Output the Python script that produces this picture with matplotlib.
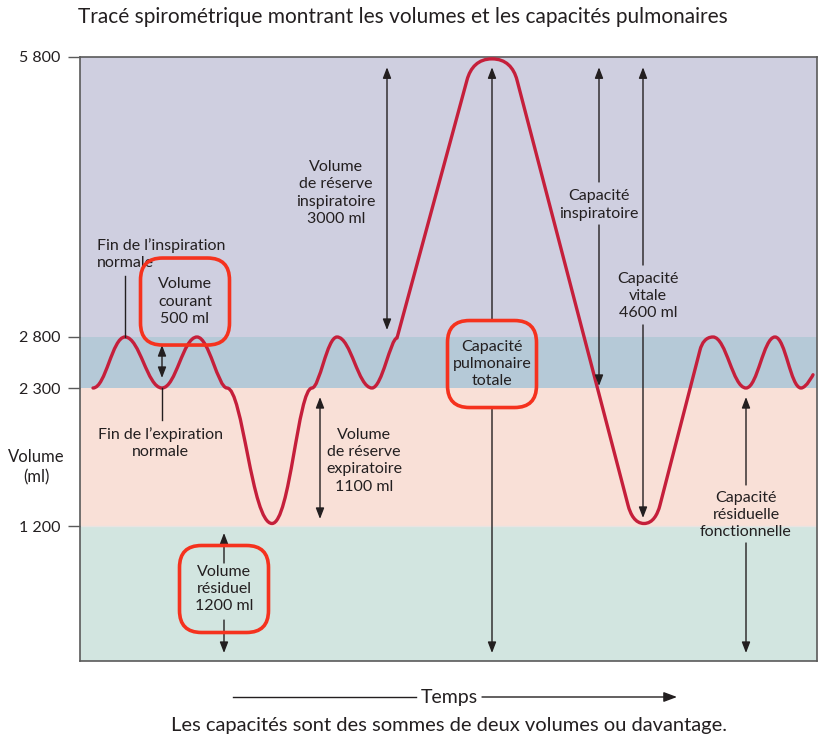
import numpy as np
import matplotlib
matplotlib.use("Agg")
import matplotlib.pyplot as plt
from matplotlib.path import Path
from matplotlib.patches import PathPatch, FancyBboxPatch
from matplotlib.lines import Line2D
from matplotlib.transforms import ScaledTranslation

plt.rcParams["font.family"] = ["Lato", "DejaVu Sans"]

# volume bands (ml)
BAND_EDGES = [0, 1200, 2300, 2800, 5800]
BAND_COLORS = ["#d2e5e0", "#f9e0d7", "#b5c9d7", "#cfcfe0"]

YTICKS = [1200, 2300, 2800, 5800]
YTICK_LABELS = ["1 200", "2 300", "2 800", "5 800"]

# spirogram: points (time in arbitrary units, volume in ml)
TRACE_T = [13, 45, 82, 117, 147, 192, 232, 257, 292, 317, 387, 412, 437, 548, 564,
           580, 620, 633, 666, 695, 721, 733]
TRACE_V = [2300, 2800, 2300, 2800, 2300, 1220, 2300, 2800, 2300, 2790, 5553, 5780, 5553,
           1367, 1220, 1367, 2672, 2800, 2300, 2800, 2300, 2430]

INK = "#231f20"
TRACE_RED = "#c51f3b"
BOX_RED = "#f5321e"

# the schematic axis is not linear: each band has its own height (px)
_SCALE_ML = np.array([0, 1200, 2300, 2800, 5800], dtype=float)
_SCALE_PX = np.array([0, 135, 273, 324, 604], dtype=float)


def _piecewise(v, xp, fp):
    v = np.asarray(v, dtype=float)
    out = np.interp(v, xp, fp)
    lo, hi = v < xp[0], v > xp[-1]
    out = np.where(lo, fp[0] + (v - xp[0]) * (fp[1] - fp[0]) / (xp[1] - xp[0]), out)
    out = np.where(hi, fp[-1] + (v - xp[-1]) * (fp[-1] - fp[-2]) / (xp[-1] - xp[-2]), out)
    return out


def fwd(v):
    return _piecewise(v, _SCALE_ML, _SCALE_PX)


def inv(p):
    return _piecewise(p, _SCALE_PX, _SCALE_ML)


def trace_path(ts, vs, tangents, handles):
    # cubic bezier through the points; tangent per point: h = flat,
    # p = along incoming chord, n = along outgoing chord
    pts = np.column_stack([np.asarray(ts, float), fwd(vs)])

    def direction(i, mode):
        if mode == "h":
            return np.array([1.0, 0.0])
        d = pts[i] - pts[i - 1] if mode == "p" else pts[i + 1] - pts[i]
        return d / np.hypot(*d)

    verts = [pts[0]]
    codes = [Path.MOVETO]
    for i, (k0, k1) in enumerate(handles):
        a, b = pts[i], pts[i + 1]
        m0, m1 = tangents[i][1], tangents[i + 1][0]
        l0 = b[0] - a[0] if m0 == "h" else np.hypot(*(b - a))
        l1 = b[0] - a[0] if m1 == "h" else np.hypot(*(b - a))
        verts += [a + k0 * l0 * direction(i, m0), b - k1 * l1 * direction(i + 1, m1), b]
        codes += [Path.CURVE4] * 3
    verts = np.array(verts)
    verts[:, 1] = inv(verts[:, 1])
    return Path(verts, codes)


fig = plt.figure(figsize=(8.18, 7.40), dpi=100)
ax = fig.add_axes([80 / 818, 79 / 740, 737 / 818, 604 / 740])
ax.set_yscale("function", functions=(fwd, inv))
ax.set_xlim(0, 737)
ax.set_ylim(0, 5800)

for lo, hi, c in zip(BAND_EDGES[:-1], BAND_EDGES[1:], BAND_COLORS):
    ax.axhspan(lo, hi, color=c, lw=0, zorder=0)
ax.axhline(1200, color="#e9e4e2", lw=1, zorder=0.5)

tangents = ["hh"] * 9 + ["hn", "pp", "hh", "nn", "pp", "hh", "nn", "pp"] + ["hh"] * 5
third = 1 / 3
handles = [(0.4, 0.4), (0.4, 0.4), (0.4, 0.4), (0.4, 0.3), (0.35, 0.45), (0.45, 0.35),
           (0.3, 0.4), (0.4, 0.4), (0.4, 0.25), (third, third), (0.4, 0.55), (0.55, 0.4),
           (third, third), (0.4, 0.55), (0.55, 0.4), (third, third), (0.4, 0.55),
           (0.4, 0.4), (0.4, 0.4), (0.4, 0.4), (0.45, 0.0)]
ax.add_patch(PathPatch(trace_path(TRACE_T, TRACE_V, tangents, handles), fc="none",
                       ec=TRACE_RED, lw=2.4, capstyle="round", joinstyle="round", zorder=3))

for s in ax.spines.values():
    s.set_color("#5a5a5a")
    s.set_linewidth(1.2)
ax.set_xticks([])
ax.set_yticks(YTICKS)
ax.set_yticklabels(YTICK_LABELS)
ax.tick_params(axis="y", direction="out", length=9, width=1, color="#5a5a5a",
               pad=5, labelsize=11.5, labelcolor=INK)
ax.minorticks_off()


def arrow(x, y_from, y_to, style="-|>"):
    ax.annotate("", xy=(x, y_to), xytext=(x, y_from),
                arrowprops=dict(arrowstyle=f"{style},head_length=0.65,head_width=0.25",
                                color=INK, lw=1.0, shrinkA=0, shrinkB=0, mutation_scale=10),
                zorder=4)


def label(x, y, s, ha="center", box=False):
    ax.text(x, y, s, ha=ha, va="center", fontsize=11.5, color=INK, linespacing=1.3,
            zorder=5)
    if box:
        # fixed-size rounded frame (inches) centred on the label
        tr = fig.dpi_scale_trans + ScaledTranslation(x, y, ax.transData)
        ax.add_patch(FancyBboxPatch((-0.445, -0.435), 0.89, 0.87,
                                    boxstyle="round,pad=0,rounding_size=0.22",
                                    fc="none", ec=BOX_RED, lw=2.6, transform=tr,
                                    zorder=5))


# fin de l'inspiration / courant / fin de l'expiration
label(17, 3690, "Fin de l’inspiration\nnormale", ha="left")
ax.plot([45, 45], [3450, 2800], color=INK, lw=1, zorder=4)
label(105, 3180, "Volume\ncourant\n500 ml", box=True)
arrow(82, 2398, 2721, "<|-|>")
ax.plot([82, 82], [2300, 2045], color=INK, lw=1, zorder=4)
label(80, 1860, "Fin de l’expiration\nnormale")

# volume de réserve expiratoire
arrow(240, 2228, 1256, "<|-|>")
label(284, 1720, "Volume\nde réserve\nexpiratoire\n1100 ml")

# volume résiduel
arrow(144, 871, 1138)
arrow(144, 364, 71)
label(144, 640, "Volume\nrésiduel\n1200 ml", box=True)

# volume de réserve inspiratoire
arrow(307, 2875, 5690, "<|-|>")
label(256, 4343, "Volume\nde réserve\ninspiratoire\n3000 ml")

# capacité pulmonaire totale
arrow(412, 2980, 5690)
arrow(412, 2130, 71)
label(412, 2535, "Capacité\npulmonaire\ntotale", box=True)

# capacité inspiratoire
arrow(519, 4461, 5690)
arrow(519, 4000, 2320)
label(519, 4214, "Capacité\ninspiratoire")

# capacité vitale
arrow(563, 3571, 5690)
arrow(563, 2929, 1264)
label(568, 3239, "Capacité\nvitale\n4600 ml")

# capacité résiduelle fonctionnelle
arrow(666, 1527, 2228)
arrow(666, 1049, 71)
label(666, 1288, "Capacité\nrésiduelle\nfonctionnelle")

fig.text(36 / 818, 1 - 467 / 740, "Volume\n(ml)", ha="center", va="center",
         fontsize=12, color=INK, linespacing=1.3)
fig.text(78 / 818, 1 - 17 / 740,
         "Tracé spirométrique montrant les volumes et les capacités pulmonaires",
         ha="left", va="center", fontsize=15, color=INK)

# time axis arrow below the plot
ty = 1 - 697 / 740
fig.text(449 / 818, ty, "Temps", ha="center", va="center", fontsize=14, color=INK)
fig.add_artist(Line2D([233 / 818, 416 / 818], [ty, ty], color=INK, lw=1))
ax.annotate("", xy=(677 / 818, ty), xytext=(482 / 818, ty), xycoords="figure fraction",
            textcoords="figure fraction",
            arrowprops=dict(arrowstyle="-|>,head_length=0.8,head_width=0.3", color=INK,
                            lw=1, shrinkA=0, shrinkB=0, mutation_scale=10),
            annotation_clip=False)
fig.text(449 / 818, 1 - 726 / 740,
         "Les capacités sont des sommes de deux volumes ou davantage.",
         ha="center", va="center", fontsize=14.5, color=INK)

fig.savefig("out.png", dpi=100)
